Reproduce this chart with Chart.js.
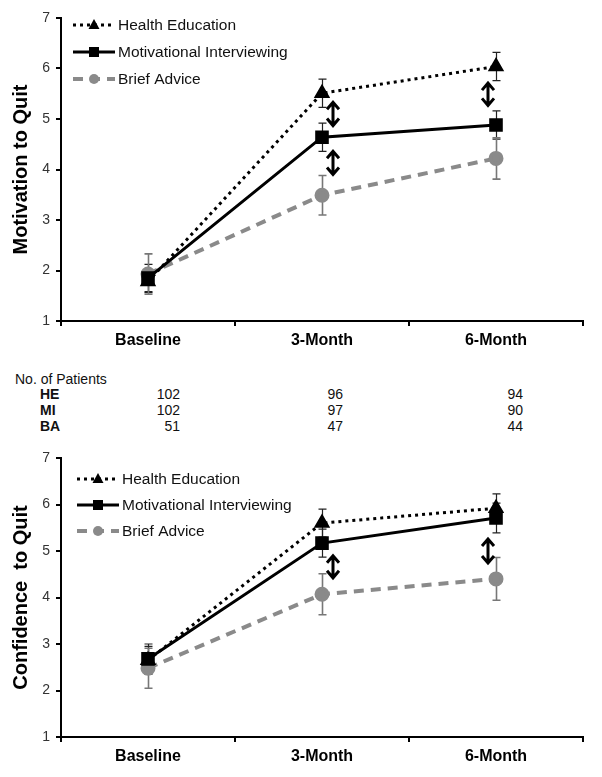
<!DOCTYPE html>
<html>
<head>
<meta charset="utf-8">
<script src="https://cdn.jsdelivr.net/npm/chart.js@4.4.1/dist/chart.umd.min.js"></script>
<style>
  body { margin: 0; background: #fff; }
  #wrap { position: relative; width: 602px; height: 777px; font-family: "Liberation Sans", Arial, sans-serif; }
  #c1 { position: absolute; left: 0; top: 0; }
  #c2 { position: absolute; left: 0; top: 440px; }
  .t { position: absolute; font-size: 14px; color: #111; line-height: 16px; white-space: nowrap; }
  .b { font-weight: bold; }
</style>
</head>
<body>
<div id="wrap">
  <canvas id="c1" width="602" height="362"></canvas>
  <div id="patients"></div>
  <canvas id="c2" width="602" height="337"></canvas>
</div>
<script>
// Data
const timepoints = ["Baseline", "3-Month", "6-Month"];

const motivationHE = [1.78, 5.51, 6.04];
const motivationHEErr = [0.22, 0.28, 0.28];
const motivationMI = [1.85, 4.64, 4.88];
const motivationMIErr = [0.27, 0.28, 0.28];
const motivationBA = [1.93, 3.49, 4.22];
const motivationBAErr = [0.40, 0.39, 0.41];

const confidenceHE = [2.65, 5.60, 5.92];
const confidenceHEErr = [0.30, 0.30, 0.31];
const confidenceMI = [2.68, 5.17, 5.71];
const confidenceMIErr = [0.32, 0.30, 0.32];
const confidenceBA = [2.48, 4.07, 4.40];
const confidenceBAErr = [0.43, 0.44, 0.46];

const patientsHE = [102, 96, 94];
const patientsMI = [102, 97, 90];
const patientsBA = [51, 47, 44];

// significant differences (double arrows), in data units
const motivationArrows = [
  { cat: 1, from: 5.37, to: 4.83 },
  { cat: 1, from: 4.40, to: 3.86 },
  { cat: 2, from: 5.75, to: 5.23 },
];
const confidenceArrows = [
  { cat: 1, from: 4.94, to: 4.38 },
  { cat: 2, from: 5.30, to: 4.70 },
];

const FONT = "'Liberation Sans', Arial, sans-serif";
const GRAY = "#8a8a8a";

// error bars drawn under the markers
const errorBars = {
  id: "errorBars",
  beforeDatasetsDraw(chart) {
    const ctx = chart.ctx;
    const y = chart.scales.y;
    chart.data.datasets.forEach((ds, i) => {
      const meta = chart.getDatasetMeta(i);
      ctx.save();
      ctx.strokeStyle = ds.errColor;
      ctx.lineWidth = ds.errWidth;
      ds.data.forEach((v, j) => {
        const px = Math.round(meta.data[j].x) + 0.5;
        const top = y.getPixelForValue(v + ds.errors[j]);
        const bot = y.getPixelForValue(v - ds.errors[j]);
        ctx.beginPath();
        ctx.moveTo(px, top); ctx.lineTo(px, bot);
        ctx.moveTo(px - 4, top); ctx.lineTo(px + 4, top);
        ctx.moveTo(px - 4, bot); ctx.lineTo(px + 4, bot);
        ctx.stroke();
      });
      ctx.restore();
    });
  },
};

// double-headed arrows
const diffArrows = {
  id: "diffArrows",
  afterDatasetsDraw(chart, args, opts) {
    const ctx = chart.ctx;
    const { x, y } = chart.scales;
    ctx.save();
    ctx.strokeStyle = "#000";
    ctx.lineWidth = 3;
    (opts.items || []).forEach((a) => {
      const px = x.getPixelForValue(a.cat) + (a.cat === 2 ? -8 : 11);
      const y1 = y.getPixelForValue(a.from);
      const y2 = y.getPixelForValue(a.to);
      ctx.beginPath();
      ctx.moveTo(px, y1 + 2); ctx.lineTo(px, y2 - 2);
      ctx.moveTo(px - 6, y1 + 9); ctx.lineTo(px, y1 + 2); ctx.lineTo(px + 6, y1 + 9);
      ctx.moveTo(px - 6, y2 - 9); ctx.lineTo(px, y2 - 2); ctx.lineTo(px + 6, y2 - 9);
      ctx.stroke();
    });
    ctx.restore();
  },
};

// legend with line samples, drawn inside the plot
const lineLegend = {
  id: "lineLegend",
  afterDraw(chart, args, opts) {
    const ctx = chart.ctx;
    const area = chart.chartArea;
    ctx.save();
    chart.data.datasets.forEach((ds, i) => {
      const ly = area.top + opts.top + i * opts.gap;
      const lx = opts.left;
      ctx.strokeStyle = ds.borderColor;
      ctx.lineWidth = ds.borderWidth;
      ctx.setLineDash(ds.borderDash || []);
      ctx.beginPath();
      ctx.moveTo(lx, ly); ctx.lineTo(lx + 42, ly);
      ctx.stroke();
      ctx.setLineDash([]);
      ctx.fillStyle = ds.pointBackgroundColor;
      const mx = lx + 21;
      ctx.beginPath();
      if (ds.pointStyle === "triangle") {
        ctx.moveTo(mx, ly - 6); ctx.lineTo(mx + 5.5, ly + 4); ctx.lineTo(mx - 5.5, ly + 4);
      } else if (ds.pointStyle === "rect") {
        ctx.rect(mx - 5, ly - 5, 10, 10);
      } else {
        ctx.arc(mx, ly, 5, 0, Math.PI * 2);
      }
      ctx.fill();
      ctx.fillStyle = "#111";
      ctx.font = "15.5px " + FONT;
      ctx.textBaseline = "middle";
      ctx.fillText(ds.label, lx + 45, ly + 1);
    });
    ctx.restore();
  },
};

function makeDatasets(he, heErr, mi, miErr, ba, baErr) {
  return [
    {
      label: "Health Education",
      data: he, errors: heErr, errColor: "#222", errWidth: 1.2,
      borderColor: "#000", borderWidth: 3, borderDash: [3, 4],
      pointStyle: "triangle", pointRadius: 6.5,
      pointBackgroundColor: "#000", pointBorderColor: "#000",
    },
    {
      label: "Motivational Interviewing",
      data: mi, errors: miErr, errColor: "#222", errWidth: 1.2,
      borderColor: "#000", borderWidth: 3,
      pointStyle: "rect", pointRadius: 7.5,
      pointBackgroundColor: "#000", pointBorderColor: "#000",
    },
    {
      label: "Brief Advice",
      data: ba, errors: baErr, errColor: "#777", errWidth: 1.6,
      borderColor: GRAY, borderWidth: 4, borderDash: [10, 7],
      pointStyle: "circle", pointRadius: 5.5,
      pointBackgroundColor: GRAY, pointBorderColor: GRAY,
    },
  ];
}

function renderChart(id, title, datasets, arrows, legendTop, legendLeft, xHeight) {
  const ctx = document.getElementById(id).getContext("2d");
  new Chart(ctx, {
    type: "line",
    data: { labels: timepoints, datasets: datasets },
    options: {
      responsive: false,
      animation: false,
      devicePixelRatio: 1,
      layout: { padding: { left: 0, right: 19, top: 18, bottom: 0 } },
      elements: { line: { tension: 0, borderCapStyle: "butt" }, point: { borderWidth: 0 } },
      plugins: {
        legend: { display: false },
        tooltip: { enabled: false },
        diffArrows: { items: arrows },
        lineLegend: { top: legendTop, gap: legendTop === 7 ? 27 : 26, left: legendLeft },
      },
      scales: {
        x: {
          offset: true,
          afterFit: (s) => { s.height = xHeight; },
          grid: { offset: true, drawOnChartArea: false, tickLength: 5, color: "#000", lineWidth: 2 },
          border: { display: true, color: "#000", width: 2 },
          ticks: { color: "#000", font: { family: FONT, size: 16, weight: "bold" }, padding: 5 },
        },
        y: {
          min: 1, max: 7,
          afterFit: (s) => { s.width = 61; },
          grid: { drawOnChartArea: false, tickLength: 5, color: "#000", lineWidth: 2 },
          border: { display: true, color: "#000", width: 2 },
          ticks: { stepSize: 1, color: "#333", font: { family: FONT, size: 14 }, padding: 6 },
          title: {
            display: true, text: title, color: "#000",
            font: { family: FONT, size: 20, weight: "bold" },
            padding: { top: 9, bottom: 0 },
          },
        },
      },
    },
    plugins: [errorBars, diffArrows, lineLegend],
  });
}

// table of patient numbers between the charts
function renderPatients() {
  const box = document.getElementById("patients");
  const colRight = [180, 343, 523];
  const rows = [["HE", patientsHE, 386], ["MI", patientsMI, 402], ["BA", patientsBA, 418]];
  let html = '<div class="t" style="left:15px;top:371px">No. of Patients</div>';
  rows.forEach(([name, vals, top]) => {
    html += `<div class="t b" style="left:40px;top:${top}px">${name}</div>`;
    vals.forEach((v, i) => {
      html += `<div class="t" style="left:${colRight[i] - 60}px;width:60px;text-align:right;top:${top}px">${v}</div>`;
    });
  });
  box.innerHTML = html;
}

document.addEventListener("DOMContentLoaded", () => {
  renderChart("c1", "Motivation to Quit",
    makeDatasets(motivationHE, motivationHEErr, motivationMI, motivationMIErr, motivationBA, motivationBAErr),
    motivationArrows, 7, 73, 41);
  renderPatients();
  renderChart("c2", "Confidence  to Quit",
    makeDatasets(confidenceHE, confidenceHEErr, confidenceMI, confidenceMIErr, confidenceBA, confidenceBAErr),
    confidenceArrows, 21, 77, 40);
});
</script>
</body>
</html>
